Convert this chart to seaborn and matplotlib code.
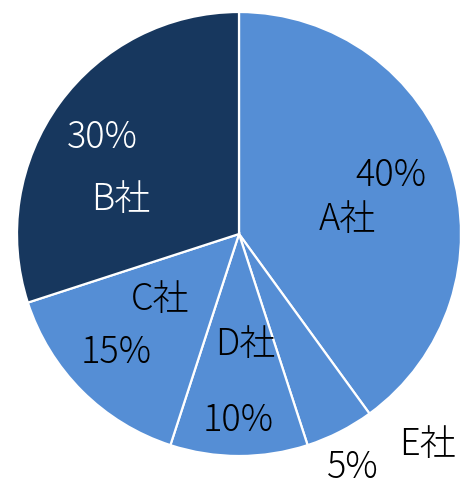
import matplotlib
matplotlib.use("Agg")
import matplotlib.pyplot as plt
import seaborn as sns

sns.set_theme(style="white")
plt.rcParams['font.family'] = ['Noto Sans CJK JP', 'DejaVu Sans']

# data (clockwise from 12 o'clock)
companies = ["A社", "E社", "D社", "C社", "B社"]
shares = [40, 5, 10, 15, 30]
pct_labels = ["40%", "5%", "10%", "15%", "30%"]

# styles
colors = ["#558ED5", "#558ED5", "#558ED5", "#558ED5", "#17375E"]
text_colors = ["black", "black", "black", "black", "white"]
# label positions in pie-radius units (name, pct)
name_pos = [(0.486, 0.063), (0.851, -0.950), (0.027, -0.500), (-0.356, -0.297), (-0.532, 0.153)]
pct_pos = [(0.685, 0.262), (0.514, -1.055), (-0.005, -0.842), (-0.554, -0.536), (-0.617, 0.433)]

fig = plt.figure(figsize=(4.62, 4.8), dpi=100)
ax = fig.add_axes([0, 0, 1, 1])
R = 222.0
cx, cy = 239.0, 234.0
ax.pie(shares, colors=colors, startangle=90, counterclock=False,
       wedgeprops=dict(edgecolor="white", linewidth=1.6), radius=1.0)
ax.set_xlim(-cx / R, (462 - cx) / R)
ax.set_ylim((cy - 480) / R, cy / R)
ax.set_aspect('equal', adjustable='box')
ax.set_position([0, 0, 1, 1])
ax.axis('off')

for nm, pc, npos, ppos, tc in zip(companies, pct_labels, name_pos, pct_pos, text_colors):
    ax.text(npos[0], npos[1], nm, ha='center', va='center', fontsize=26,
            color=tc, fontweight='light')
    ax.text(ppos[0], ppos[1], pc, ha='center', va='center', fontsize=26,
            color=tc, fontweight='light', clip_on=False)

fig.savefig("out.png", dpi=100)
